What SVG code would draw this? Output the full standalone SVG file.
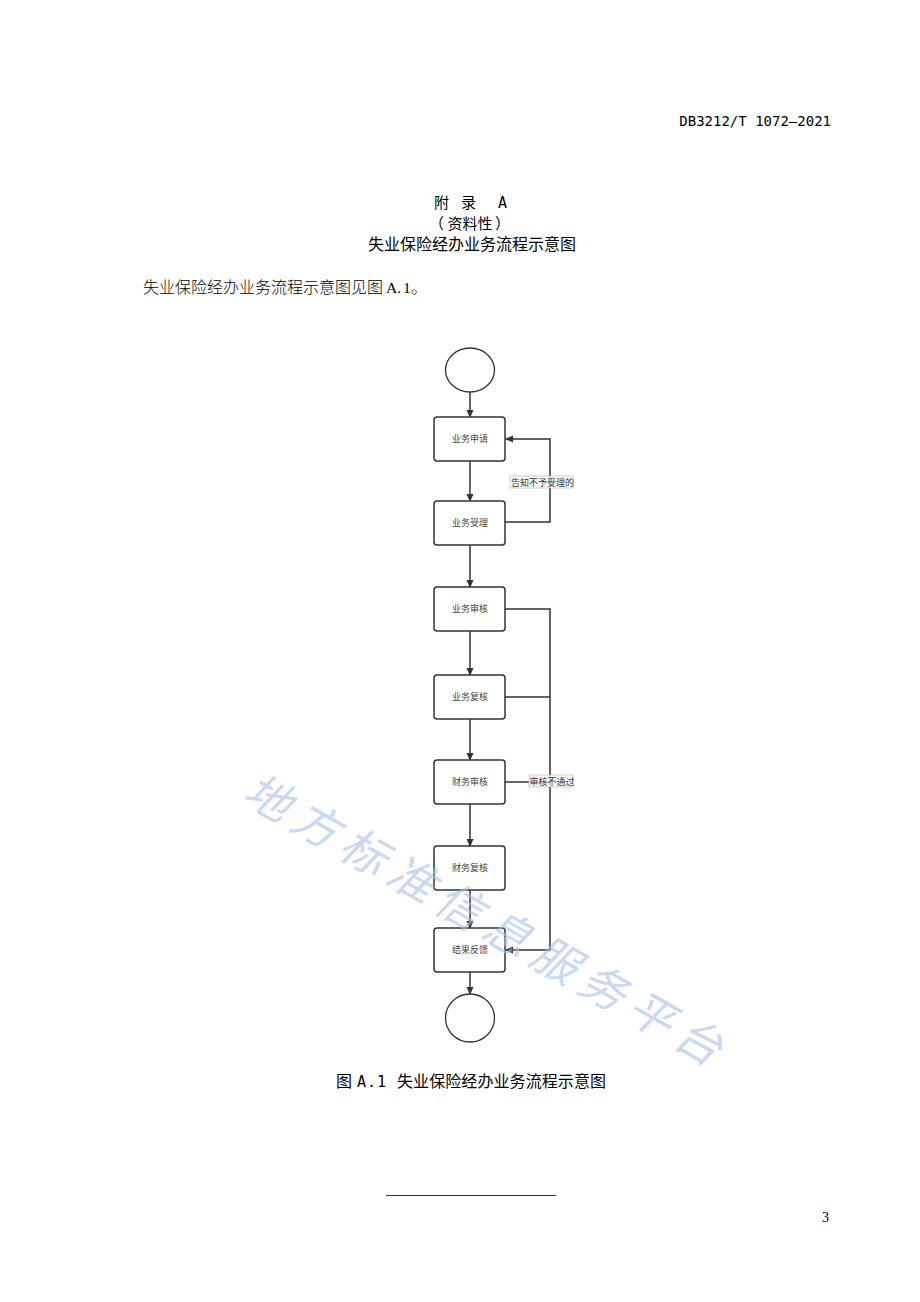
<svg xmlns="http://www.w3.org/2000/svg" width="920" height="1302" viewBox="0 0 920 1302">
<style>
.page{font-family:"Noto Sans CJK SC","DejaVu Sans",sans-serif;fill:#000}
.mono{font-family:"DejaVu Sans Mono",monospace;fill:#000}
.serif{font-family:"Liberation Serif",serif;fill:#000}
.node rect{fill:#fff;stroke:#333;stroke-width:1.5}
.node ellipse{fill:#fff;stroke:#333;stroke-width:1.3}
.node text{font-family:"Noto Sans CJK SC",sans-serif;font-size:9px;fill:#444;text-anchor:middle}
.conn path{fill:none;stroke:#333;stroke-width:1.5}
.lbl rect{fill:#fff;fill-opacity:0.75;stroke:#bbb;stroke-width:0.7}
.lbl text{font-family:"Noto Sans CJK SC",sans-serif;font-size:9px;fill:#333}
</style>
<defs>
<marker id="ah" markerWidth="8" markerHeight="8" refX="7" refY="4" orient="auto" markerUnits="userSpaceOnUse">
<path d="M0,0.5 L8,4 L0,7.5 Z" fill="#333"/>
</marker>
</defs>
<rect width="920" height="1302" fill="#fff"/>

<text x="831" y="126" class="mono" font-size="14" text-anchor="end">DB3212/T 1072—2021</text>
<g class="page">
<text x="434" y="208" font-size="15">附</text>
<text x="461" y="208" font-size="15">录</text>
<text x="498" y="208" class="mono" font-size="15">A</text>
<text x="429" y="229" font-size="15">（</text>
<text x="470" y="229" font-size="15" text-anchor="middle">资料性</text>
<text x="495" y="229" font-size="15">）</text>
<text x="472" y="250" font-size="16" text-anchor="middle">失业保险经办业务流程示意图</text>
</g>
<text x="143" y="293" class="page" font-size="16" font-weight="300">失业保险经办业务流程示意图见图</text>
<text x="386" y="293" class="serif" font-size="15.5">A.</text>
<text x="403" y="293" class="serif" font-size="15.5">1</text>
<text x="411" y="293" class="page" font-size="16" font-weight="300">。</text>

<g class="conn">
<path d="M470,392 V417" marker-end="url(#ah)"/>
<path d="M470,461 V501" marker-end="url(#ah)"/>
<path d="M470,545 V587" marker-end="url(#ah)"/>
<path d="M470,631 V675" marker-end="url(#ah)"/>
<path d="M470,719 V760" marker-end="url(#ah)"/>
<path d="M470,804 V846" marker-end="url(#ah)"/>
<path d="M470,890 V928" marker-end="url(#ah)"/>
<path d="M470,972 V994" marker-end="url(#ah)"/>
<path d="M505,522 H550 V439 H506" marker-end="url(#ah)"/>
<path d="M505,609 H550 V950 H506" marker-end="url(#ah)"/>
<path d="M505,697 H550"/>
<path d="M505,782 H550"/>
</g>

<g id="n_start" class="node"><ellipse cx="470" cy="370" rx="24.5" ry="22"/></g>
<g id="n_apply" class="node"><rect x="434" y="417" width="71" height="44" rx="3"/><text x="470" y="442">业务申请</text></g>
<g id="n_accept" class="node"><rect x="434" y="501" width="71" height="44" rx="3"/><text x="470" y="526">业务受理</text></g>
<g id="n_audit" class="node"><rect x="434" y="587" width="71" height="44" rx="3"/><text x="470" y="612">业务审核</text></g>
<g id="n_review" class="node"><rect x="434" y="675" width="71" height="44" rx="3"/><text x="470" y="700">业务复核</text></g>
<g id="n_faudit" class="node"><rect x="434" y="760" width="71" height="44" rx="3"/><text x="470" y="785">财务审核</text></g>
<g id="n_freview" class="node"><rect x="434" y="846" width="71" height="44" rx="3"/><text x="470" y="871">财务复核</text></g>
<g id="n_result" class="node"><rect x="434" y="928" width="71" height="44" rx="3"/><text x="470" y="953">结果反馈</text></g>
<g id="n_end" class="node"><ellipse cx="470" cy="1018" rx="24.5" ry="24"/></g>

<g id="lbl_reject" class="lbl"><rect x="510" y="476" width="63" height="12"/><text x="511" y="485.5">告知不予受理的</text></g>
<g id="lbl_fail" class="lbl"><rect x="529" y="775" width="44" height="12"/><text x="529.5" y="784.5">审核不通过</text></g>

<g class="page">
<text x="336" y="1087" font-size="16">图</text>
<text x="357" y="1087" class="mono" font-size="15" letter-spacing="1">A.1</text>
<text x="397" y="1087" font-size="16" textLength="209" lengthAdjust="spacing">失业保险经办业务流程示意图</text>
</g>

<line x1="386" y1="1195.5" x2="556" y2="1195.5" stroke="#000" stroke-width="0.8"/>
<text x="829" y="1222" class="serif" font-size="14" text-anchor="end">3</text>

<text x="487" y="938" transform="rotate(29.5 487 922)" font-family="Noto Sans CJK SC,sans-serif" font-size="46" font-style="italic" letter-spacing="9" fill="#a6c0ea" fill-opacity="0.6" text-anchor="middle">地方标准信息服务平台</text>
</svg>
